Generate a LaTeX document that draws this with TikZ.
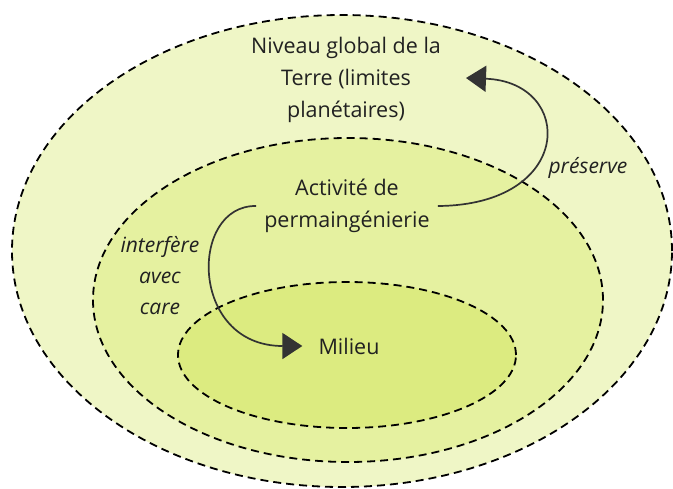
\documentclass[tikz,border=0pt]{standalone}
\usepackage{fontspec}
\setmainfont{Open Sans}
\usetikzlibrary{shapes.geometric}
\usetikzlibrary{arrows.meta}
\usetikzlibrary{positioning}
\definecolor{zoneA}{RGB}{239,246,198}
\definecolor{zoneB}{RGB}{229,241,160}
\definecolor{zoneC}{RGB}{220,235,128}
\definecolor{ink}{RGB}{51,51,51}
\tikzset{zone/.style={ellipse,draw=black,dashed,line width=1.8pt,dash pattern=on 8pt off 5pt,inner sep=0pt}}
\tikzset{lbl/.style={align=center,font=\fontsize{21.5}{32}\selectfont,text=ink!65!black,inner sep=8pt}}
\tikzset{verb/.style={lbl,font=\fontsize{21}{31}\selectfont\itshape,inner sep=0pt}}
\tikzset{flow/.style={draw=ink,line width=1.7pt,-{Triangle[length=20pt,width=26pt]}}}

\begin{document}
\begin{tikzpicture}[x=1pt,y=-1pt]
    \useasboundingbox (0,0) rectangle (673,488);
    \node[zone,fill=zoneA,minimum width=660pt,minimum height=472pt] (terre) at (342,251) {};
    \node[zone,fill=zoneB,minimum width=510pt,minimum height=324pt] (activ) at (348,300) {};
    \node[zone,fill=zoneC,minimum width=338pt,minimum height=146pt] (milieuzone) at (347,355) {};
    % textes
    \node[lbl] (niveau) at (346,80) {Niveau global de la\\Terre (limites\\planétaires)};
    \node[lbl] (perma) at (347,206) {Activité de\\permaingénierie};
    \node[lbl,inner sep=0pt] (milieu) at (349,346) {Milieu};
    \node[verb] (preserve) at (588,168) {préserve};
    \node[verb] (interfere) at (160,276) {interfère\\avec\\care};
    % fleches
    \draw[flow] (perma.east) .. controls (575,205) and (575,82) .. (466,78);
    \draw[flow] (perma.west) .. controls (189,205) and (189,346) .. ([xshift=-16pt]milieu.west);
\end{tikzpicture}
\end{document}
